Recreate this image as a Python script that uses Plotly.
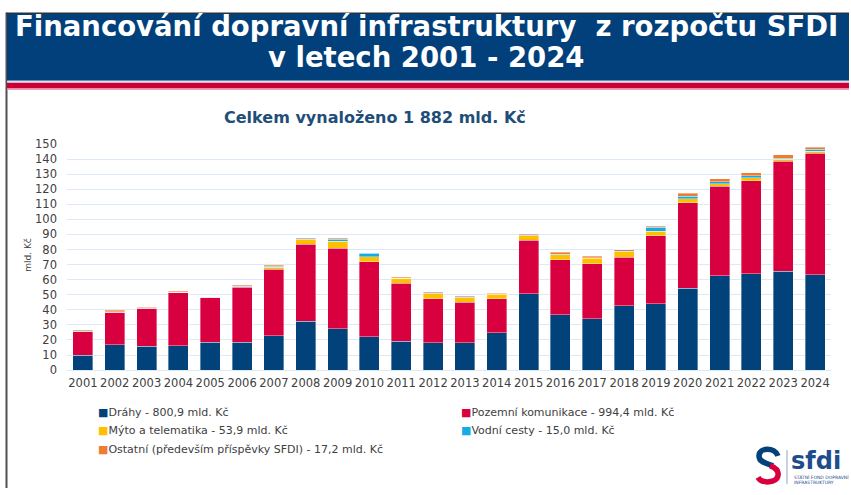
import plotly.graph_objects as go

W, H = 851, 495

years = [str(y) for y in range(2001, 2025)]
drahy = [10.0, 16.8, 15.9, 16.1, 18.5, 18.5, 22.8, 32.5, 27.5, 22.2, 19.1, 18.1,
         18.1, 24.9, 50.7, 36.8, 34.0, 42.8, 43.9, 54.4, 62.6, 63.9, 65.6, 63.4]
pozemni = [15.4, 21.5, 25.2, 35.3, 29.7, 36.6, 44.1, 50.9, 53.3, 49.6, 38.5, 29.4,
           26.8, 22.6, 35.5, 36.3, 36.7, 32.2, 45.1, 56.8, 59.3, 61.7, 73.1, 80.4]
myto = [0.1, 0.1, 0.1, 0.1, 0.1, 0.2, 1.5, 3.0, 4.8, 3.4, 3.2, 3.2,
        3.1, 2.8, 3.0, 3.4, 3.5, 3.5, 3.1, 2.6, 1.8, 2.0, 1.2, 1.4]
vodni = [0.2, 0.3, 0.1, 0.3, 0.1, 0.4, 0.4, 0.4, 1.2, 2.4, 0.3, 0.4,
         0.3, 0.3, 0.3, 0.3, 0.3, 0.2, 2.6, 1.7, 1.3, 1.4, 0.8, 1.2]
ostatni = [0.8, 0.9, 0.4, 0.6, 0.3, 0.7, 0.8, 0.7, 0.8, 0.2, 0.6, 0.7,
           0.7, 0.5, 0.8, 1.3, 1.0, 1.0, 0.6, 1.8, 1.9, 1.9, 2.2, 1.5]

series_names = ["Dráhy - 800,9 mld. Kč", "Pozemní komunikace - 994,4 mld. Kč",
                "Mýto a telematika - 53,9 mld. Kč", "Vodní cesty - 15,0 mld. Kč",
                "Ostatní (především příspěvky SFDI) - 17,2 mld. Kč"]
series_colors = ["#01427A", "#D9003F", "#FFC000", "#13ACE8", "#EE7D31"]
series_values = [drahy, pozemni, myto, vodni, ostatni]

y_ticks = list(range(0, 151, 10))


def px(x):
    return x / W


def py(y):
    return 1 - y / H


fig = go.Figure()
for name, col, vals in zip(series_names, series_colors, series_values):
    fig.add_trace(go.Bar(x=years, y=vals, name=name, marker_color=col,
                         marker_line=dict(color="rgba(255,255,255,0.6)", width=0.6),
                         showlegend=False))

FONT = "DejaVu Sans, Verdana, sans-serif"

fig.update_layout(
    width=W, height=H, barmode="stack", bargap=0.37,
    margin=dict(l=0, r=0, t=0, b=0),
    paper_bgcolor="white", plot_bgcolor="white",
    font=dict(family=FONT, color="#404040", size=11.5),
    xaxis=dict(type="category", domain=[px(67), px(831)], showgrid=False,
               showline=False, ticks="", tickfont=dict(size=11.5, color="#404040"),
               ticklabelstandoff=4),
    yaxis=dict(range=[0, 150], domain=[py(373.7), py(141)], tickvals=y_ticks,
               showgrid=True, gridcolor="#DCEAF7", gridwidth=1, zeroline=True,
               zerolinecolor="#DCEAF7", zerolinewidth=1, showline=False,
               tickfont=dict(size=11.5, color="#404040"), ticklabelstandoff=9),
)

shapes = []
# frame lines
shapes.append(dict(type="line", xref="paper", yref="paper", x0=px(6.5), x1=px(6.5),
                   y0=py(6), y1=py(495), line=dict(color="#505050", width=2)))
shapes.append(dict(type="line", xref="paper", yref="paper", x0=px(6), x1=px(849),
                   y0=py(6.5), y1=py(6.5), line=dict(color="#303030", width=1.5)))
# banner
shapes.append(dict(type="rect", xref="paper", yref="paper", x0=px(7), x1=px(849),
                   y0=py(76), y1=py(7), fillcolor="#01407B", line=dict(width=0)))
shapes.append(dict(type="rect", xref="paper", yref="paper", x0=px(7), x1=px(849),
                   y0=py(78), y1=py(76), fillcolor="#D7E3F1", line=dict(width=0)))
shapes.append(dict(type="rect", xref="paper", yref="paper", x0=px(7), x1=px(849),
                   y0=py(84), y1=py(78), fillcolor="#CC0036", line=dict(width=0)))
shapes.append(dict(type="rect", xref="paper", yref="paper", x0=px(7), x1=px(849),
                   y0=py(85.5), y1=py(84), fillcolor="#E8A0B4", line=dict(width=0)))


def P(x, y):
    return f"{px(x):.5f},{py(y):.5f}"


# logo S - blue top stroke, red bottom stroke
shapes.append(dict(type="path", xref="paper", yref="paper",
                   path=(f"M{P(778,462)} C{P(775,453)} {P(759,453)} {P(759,462)} "
                         f"C{P(759,469)} {P(768,470)} {P(773,472)}"),
                   line=dict(color="#01427A", width=5.5)))
shapes.append(dict(type="path", xref="paper", yref="paper",
                   path=(f"M{P(770,472)} C{P(775,474)} {P(779,477)} {P(778,482)} "
                         f"C{P(777,490)} {P(762,491)} {P(758,484)}"),
                   line=dict(color="#D9003F", width=5.5)))
shapes.append(dict(type="line", xref="paper", yref="paper", x0=px(787), x1=px(787),
                   y0=py(456), y1=py(491), line=dict(color="#8FA5C4", width=1)))
fig.update_layout(shapes=shapes)

TFONT = "DejaVu Sans, sans-serif"
ann = []
ann.append(dict(x=px(426), y=py(19.5), xref="paper", yref="paper", showarrow=False,
                text="<b>Financování dopravní infrastruktury  z rozpočtu SFDI</b>",
                font=dict(family=TFONT, size=27.5, color="white"),
                xanchor="center", yanchor="middle"))
ann.append(dict(x=px(426), y=py(51.5), xref="paper", yref="paper", showarrow=False,
                text="<b>v letech 2001 - 2024</b>",
                font=dict(family=TFONT, size=27.5, color="white"),
                xanchor="center", yanchor="middle"))
ann.append(dict(x=px(375), y=py(114), xref="paper", yref="paper", showarrow=False,
                text="<b>Celkem vynaloženo 1 882 mld. Kč</b>",
                font=dict(family=FONT, size=16, color="#1F4E79"),
                xanchor="center", yanchor="middle"))
ann.append(dict(x=px(28), y=py(255), xref="paper", yref="paper", showarrow=False,
                text="mld. Kč", textangle=-90,
                font=dict(family=FONT, size=9, color="#404040"),
                xanchor="center", yanchor="middle"))

leg_pos = [(96, 417), (459, 417), (96, 436), (459, 436), (96, 455)]
for (lx, ly), name, col in zip(leg_pos, series_names, series_colors):
    ann.append(dict(x=px(lx), y=py(ly), xref="paper", yref="paper", showarrow=False,
                    text=f"<span style='color:{col}'>■</span>{name}",
                    font=dict(family=FONT, size=11, color="#404040"),
                    xanchor="left", yanchor="middle"))

ann.append(dict(x=px(789), y=py(467), xref="paper", yref="paper", showarrow=False,
                text="<b>sfdi</b>", font=dict(family=FONT, size=24, color="#1E4C8C"),
                xanchor="left", yanchor="middle"))
ann.append(dict(x=px(792), y=py(484), xref="paper", yref="paper", showarrow=False,
                text="STÁTNÍ FOND DOPRAVNÍ", font=dict(family=FONT, size=4.5, color="#1E4C8C"),
                xanchor="left", yanchor="middle"))
ann.append(dict(x=px(792), y=py(489), xref="paper", yref="paper", showarrow=False,
                text="INFRASTRUKTURY", font=dict(family=FONT, size=4.5, color="#1E4C8C"),
                xanchor="left", yanchor="middle"))
fig.update_layout(annotations=ann)

fig.write_html("out.html")
